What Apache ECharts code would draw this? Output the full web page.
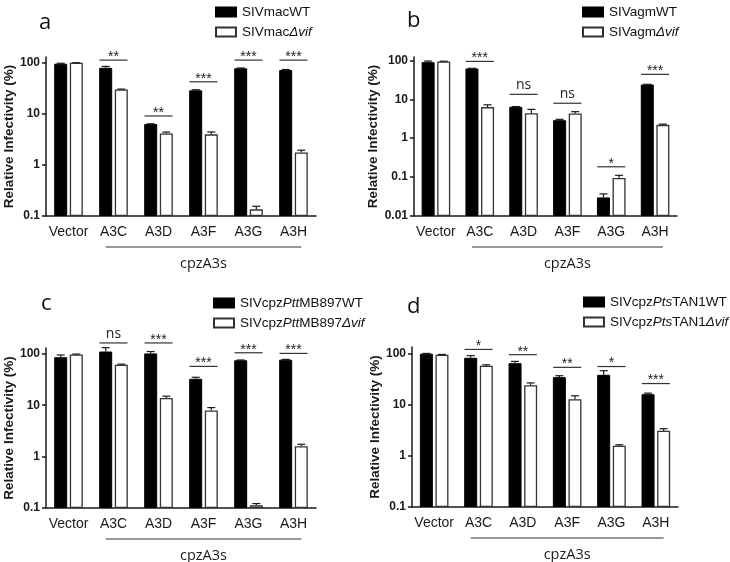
<!DOCTYPE html>
<html>
<head>
<meta charset="utf-8">
<script src="https://cdn.jsdelivr.net/npm/echarts@6/dist/echarts.min.js"></script>
<style>
html, body { margin: 0; background: #fff; }
#main { width: 730px; height: 562px; }
</style>
</head>
<body>
<div id="main"></div>
<script>
var categories = ['Vector', 'A3C', 'A3D', 'A3F', 'A3G', 'A3H'];
var ticksA = [0.1, 1, 10, 100];
var ticksB = [0.01, 0.1, 1, 10, 100];

// a - SIVmac
var namesA = ['SIVmacWT', 'SIVmacΔvif'];
var wtA = [96, 80, 6.3, 29, 78, 72];
var wtErrA = [2, 5, 0.1, 0.7, 1.2, 2];
var vifA = [100, 30, 4.15, 3.97, 0.135, 1.76];
var vifErrA = [0.5, 0.6, 0.25, 0.45, 0.02, 0.18];
var sigYA = [113, 9.1, 42.5, 113, 113];
var sigTextA = ['**', '**', '***', '***', '***'];

// b - SIVagm
var namesB = ['SIVagmWT', 'SIVagmΔvif'];
var wtB = [90, 62, 6.4, 2.9, 0.03, 24];
var wtErrB = [6, 0.5, 0.1, 0.15, 0.007, 0.3];
var vifB = [94, 6.3, 4.4, 4.3, 0.095, 2.2];
var vifErrB = [1, 0.9, 1.1, 0.5, 0.016, 0.1];
var sigYB = [94, 13.4, 7.9, 0.184, 43.7];
var sigTextB = ['***', 'ns', 'ns', '*', '***'];

// c - SIVcpzPtt MB897
var namesC = ['SIVcpzPttMB897WT', 'SIVcpzPttMB897Δvif'];
var wtC = [86, 111, 102, 32.7, 75, 77];
var wtErrC = [9, 21, 9, 2.3, 1, 1];
var vifC = [97, 61.7, 13.8, 7.9, 0.113, 1.6];
var vifErrC = [2, 1.3, 1.2, 1.1, 0.009, 0.14];
var sigYC = [163, 163, 57, 105, 102];
var sigTextC = ['ns', '***', '***', '***', '***'];

// d - SIVcpzPts TAN1
var namesD = ['SIVcpzPtsTAN1WT', 'SIVcpzPtsTAN1Δvif'];
var wtD = [100, 83, 65, 34.7, 38.6, 16.1];
var wtErrD = [1, 8.5, 5.6, 2.3, 7.8, 0.8];
var vifD = [95.5, 58, 24.2, 12.8, 1.58, 3.1];
var vifErrD = [1, 2.5, 2.6, 2.2, 0.07, 0.3];
var sigYD = [121, 95.5, 54, 56, 26];
var sigTextD = ['*', '**', '**', '*', '***'];

var panels = [
	{ letter: 'a', names: namesA, wt: wtA, wtErr: wtErrA, vif: vifA, vifErr: vifErrA, sigY: sigYA, sigText: sigTextA, ticks: ticksA, min: 0.1, max: 130,
	  grid: { left: 46, top: 57, width: 270, height: 159 }, letterPos: [39, 12], legendPos: [215, 5] },
	{ letter: 'b', names: namesB, wt: wtB, wtErr: wtErrB, vif: vifB, vifErr: vifErrB, sigY: sigYB, sigText: sigTextB, ticks: ticksB, min: 0.01, max: 122,
	  grid: { left: 414, top: 57, width: 263, height: 159 }, letterPos: [407, 10], legendPos: [582, 5] },
	{ letter: 'c', names: namesC, wt: wtC, wtErr: wtErrC, vif: vifC, vifErr: vifErrC, sigY: sigYC, sigText: sigTextC, ticks: ticksA, min: 0.1, max: 130,
	  grid: { left: 46, top: 348, width: 270, height: 160 }, letterPos: [41, 293], legendPos: [213, 296] },
	{ letter: 'd', names: namesD, wt: wtD, wtErr: wtErrD, vif: vifD, vifErr: vifErrD, sigY: sigYD, sigText: sigTextD, ticks: ticksA, min: 0.1, max: 135,
	  grid: { left: 412, top: 347, width: 266, height: 160 }, letterPos: [407, 296], legendPos: [583, 295] }
];

var BAR_W = 13;
var OFF = BAR_W * 1.2 / 2;
var INK = '#1a1a1a';

function italicName(name) {
	return name.replace('Ptt', '{i|Ptt}').replace('Pts', '{i|Pts}').replace('Δvif', '{i|Δvif}');
}

function errorBarItem(offset) {
	return function (params, api) {
		var x = api.value(0), m = api.value(1), sd = api.value(2);
		var p0 = api.coord([x, m]);
		var p1 = api.coord([x, m + sd]);
		var cx = p0[0] + offset;
		var st = { stroke: INK, lineWidth: 1.2 };
		return {
			type: 'group',
			children: [
				{ type: 'line', shape: { x1: cx, y1: p0[1], x2: cx, y2: p1[1] }, style: st },
				{ type: 'line', shape: { x1: cx - 4, y1: p1[1], x2: cx + 4, y2: p1[1] }, style: st }
			]
		};
	};
}

function sigItem(texts) {
	return function (params, api) {
		var p = api.coord([api.value(0), api.value(1)]);
		var t = texts[params.dataIndex];
		var isStar = t.indexOf('*') >= 0;
		return {
			type: 'group',
			children: [
				{ type: 'line', shape: { x1: p[0] - 14, y1: p[1], x2: p[0] + 14, y2: p[1] }, style: { stroke: '#333', lineWidth: 1.2 } },
				{ type: 'text', x: p[0], y: p[1] - (isStar ? 3 : 9),
				  style: { text: t, textAlign: 'center', textVerticalAlign: 'middle', fontSize: 14,
				           fontFamily: isStar ? 'Liberation Sans' : 'Open Sans', fill: '#222' } }
			]
		};
	};
}

var option = {
	animation: false,
	backgroundColor: '#fff',
	title: [],
	legend: [],
	grid: [],
	xAxis: [],
	yAxis: [],
	series: []
};

panels.forEach(function (p, i) {
	option.title.push({
		text: p.letter, left: p.letterPos[0], top: p.letterPos[1], padding: 0,
		textStyle: { fontSize: 22, fontWeight: 'normal', color: '#111', fontFamily: 'Open Sans' }
	});
	option.legend.push({
		data: p.names, orient: 'vertical', left: p.legendPos[0], top: p.legendPos[1], padding: 0,
		itemWidth: 20, itemHeight: 9, itemGap: 6, icon: 'rect',
		formatter: italicName,
		textStyle: { fontSize: 13.5, color: '#111', fontFamily: 'Liberation Sans', padding: [0, 0, 0, 1],
			rich: { i: { fontStyle: 'italic', fontSize: 13.5, fontFamily: 'Liberation Sans', color: '#111' } } }
	});
	option.grid.push(p.grid);
	option.xAxis.push({
		type: 'category', gridIndex: i, data: categories,
		axisLine: { lineStyle: { color: INK, width: 1.5 } },
		axisTick: { alignWithLabel: true, length: 4, lineStyle: { color: INK, width: 1.5 } },
		axisLabel: { interval: 0, fontSize: 14, color: INK, margin: 9, fontFamily: 'Liberation Sans' },
		splitLine: { show: false }
	});
	option.yAxis.push({
		type: 'log', gridIndex: i, logBase: 10, min: p.min, max: p.max, startValue: p.min,
		name: 'Relative Infectivity (%)', nameLocation: 'middle', nameGap: 29,
		nameTextStyle: { fontWeight: 'bold', fontSize: 13.5, color: INK, fontFamily: 'Liberation Sans' },
		axisLine: { show: true, lineStyle: { color: INK, width: 1.5 } },
		axisTick: { show: true, length: 4, customValues: p.ticks, lineStyle: { color: INK, width: 1.5 } },
		axisLabel: {
			customValues: p.ticks, fontWeight: 'bold', fontSize: 12, color: INK, margin: 6, fontFamily: 'Liberation Sans',
			formatter: function (v) {
				var l = Math.log10(v);
				if (Math.abs(l - Math.round(l)) > 1e-6) return '';
				return String(+Math.pow(10, Math.round(l)).toPrecision(1));
			}
		},
		minorTick: { show: false },
		splitLine: { show: false }
	});
	option.series.push({
		type: 'bar', name: p.names[0], xAxisIndex: i, yAxisIndex: i, data: p.wt,
		barWidth: BAR_W, barGap: '20%',
		itemStyle: { color: '#000', borderColor: '#000', borderWidth: 1 }
	});
	option.series.push({
		type: 'bar', name: p.names[1], xAxisIndex: i, yAxisIndex: i, data: p.vif,
		barWidth: BAR_W, barGap: '20%',
		itemStyle: { color: '#fff', borderColor: '#333', borderWidth: 1.3 }
	});
	option.series.push({
		type: 'custom', xAxisIndex: i, yAxisIndex: i, z: 5,
		renderItem: errorBarItem(-OFF),
		encode: { x: 0, y: 1 },
		data: p.wt.map(function (v, k) { return [k, v, p.wtErr[k]]; })
	});
	option.series.push({
		type: 'custom', xAxisIndex: i, yAxisIndex: i, z: 5,
		renderItem: errorBarItem(OFF),
		encode: { x: 0, y: 1 },
		data: p.vif.map(function (v, k) { return [k, v, p.vifErr[k]]; })
	});
	option.series.push({
		type: 'custom', xAxisIndex: i, yAxisIndex: i, z: 5,
		renderItem: sigItem(p.sigText),
		encode: { x: 0, y: 1 },
		data: p.sigY.map(function (v, k) { return [k + 1, v]; })
	});
});

var chart = echarts.init(document.getElementById('main'));
chart.setOption(option);

// cpzA3s bracket under A3C..A3H
var graphics = [];
panels.forEach(function (p, i) {
	var x1 = chart.convertToPixel({ xAxisIndex: i }, 'A3C') - OFF;
	var x2 = chart.convertToPixel({ xAxisIndex: i }, 'A3H') + OFF;
	var y0 = chart.convertToPixel({ yAxisIndex: i }, p.min);
	graphics.push({ type: 'line', shape: { x1: x1, y1: y0 + 31, x2: x2, y2: y0 + 31 }, style: { stroke: '#333', lineWidth: 1.2 } });
	graphics.push({ type: 'text', x: (x1 + x2) / 2, y: y0 + 48,
		style: { text: 'cpzA3s', textAlign: 'center', textVerticalAlign: 'middle', fontSize: 14.5, fontFamily: 'Open Sans', fill: INK } });
});
chart.setOption({ graphic: graphics });
</script>
</body>
</html>
